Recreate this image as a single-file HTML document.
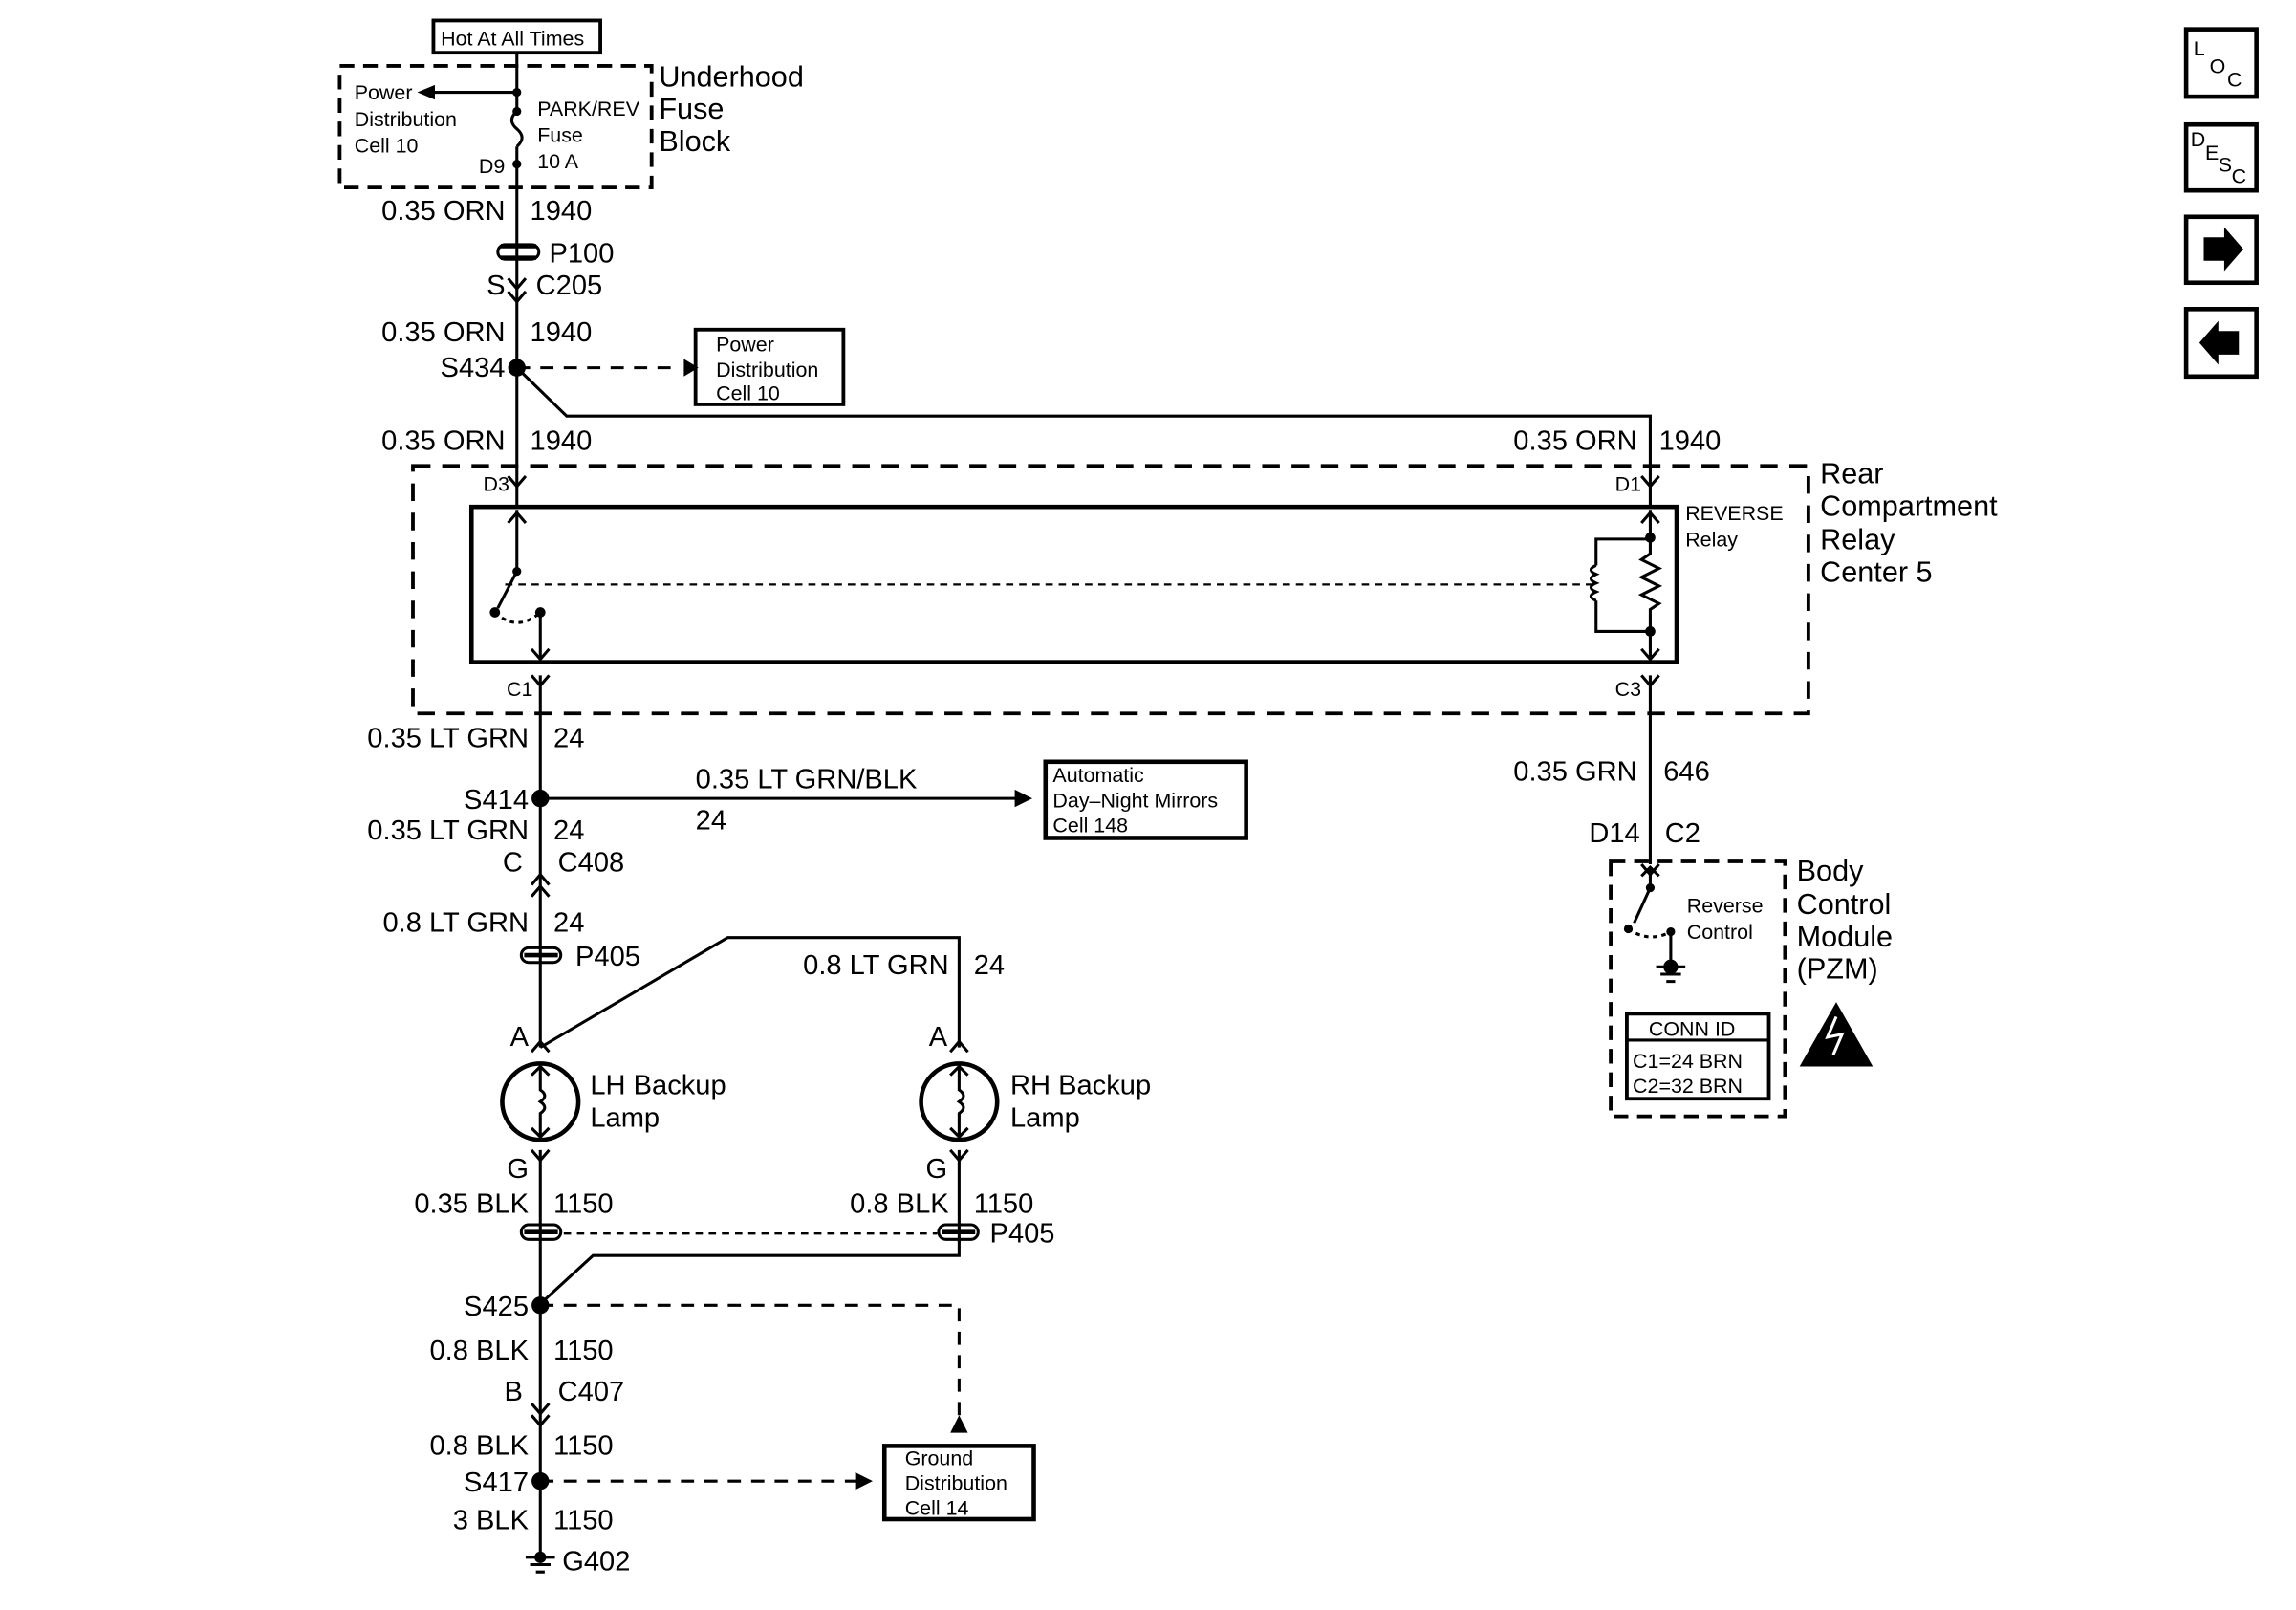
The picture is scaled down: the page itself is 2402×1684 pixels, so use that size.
<!DOCTYPE html>
<html><head><meta charset="utf-8"><style>
html,body{margin:0;padding:0;background:#fff}
svg{display:block}
text{font-family:"Liberation Sans",Arial,sans-serif;fill:#000}
.b{font-size:19px}.s{font-size:14px}.l{font-size:20px}
</style></head><body>
<svg width="2402" height="1684" viewBox="0 0 1568 1099" preserveAspectRatio="none" xmlns="http://www.w3.org/2000/svg">
<g fill="none" stroke="#000" stroke-width="2">
<rect x="296" y="14" width="114" height="22" stroke-width="2.5"/>
<rect x="232" y="45" width="213" height="83" stroke-dasharray="10,6" stroke-width="2.5"/>
<line x1="353" y1="36" x2="353" y2="76"/>
<line x1="353" y1="63" x2="290" y2="63"/>
<path d="M353 76 q-7 6 0 12 q7 6 0 12"/>
<line x1="353" y1="100" x2="353" y2="346"/>
<path d="M342 168 h24 M342 176 h24" stroke-width="3"/>
<rect x="340" y="167" width="28" height="10" rx="5"/>
<path d="M347 190 l6 7 l6 -7 M347 199 l6 7 l6 -7"/>
<line x1="353" y1="251" x2="465" y2="251" stroke-dasharray="9,7"/>
<rect x="475" y="225" width="101" height="51" stroke-width="2.5"/>
<polyline points="353,251 387,284 1127,284 1127,346"/>
<rect x="282" y="318" width="953" height="169" stroke-dasharray="12,8" stroke-width="2.5"/>
<rect x="322" y="346" width="823" height="106" stroke-width="3"/>
<path d="M347 325 l6 7 l6 -7 M1121 325 l6 7 l6 -7"/>
<path d="M347 357 l6 -7 l6 7 M1121 357 l6 -7 l6 7"/>
<line x1="353" y1="348" x2="353" y2="390"/>
<line x1="353" y1="390" x2="340" y2="415"/>
<path d="M338 418 q15 14 31 0" stroke-dasharray="3,3"/>
<line x1="369" y1="418" x2="369" y2="450"/>
<path d="M363 443 l6 7 l6 -7 M1121 443 l6 7 l6 -7"/>
<line x1="345" y1="399" x2="1090" y2="399" stroke-dasharray="5,4" stroke-width="1.5"/>
<polyline points="1127,348 1127,378 1121,382 1133,388 1121,394 1133,400 1121,406 1133,412 1127,416 1127,450"/>
<polyline points="1127,368 1090,368 1090,386"/>
<path d="M1090 386 q-7 3 0 6 q-7 3 0 6 q-7 3 0 6 q-7 3 0 6"/>
<polyline points="1090,410 1090,431 1127,431"/>
<path d="M363 461 l6 7 l6 -7 M1121 461 l6 7 l6 -7"/>
<line x1="369" y1="461" x2="369" y2="715"/>
<line x1="369" y1="545" x2="695" y2="545"/>
<rect x="714" y="520" width="137" height="52" stroke-width="3"/>
<path d="M363 604 l6 -7 l6 7 M363 612 l6 -7 l6 7"/>
<rect x="356" y="647" width="27" height="10" rx="5"/>
<path d="M358 652 h23" stroke-width="3"/>
<polyline points="369,715 497,640 655,640 655,715"/>
<path d="M363 718 l6 -7 l6 7 M649 718 l6 -7 l6 7"/>
<circle cx="369" cy="752" r="26" stroke-width="3"/>
<circle cx="655" cy="752" r="26" stroke-width="3"/>
<path d="M369 728 v16 q6 4 0 8 q6 4 0 8 v16 M363 734 l6 -6 l6 6 M363 770 l6 6 l6 -6"/>
<path d="M655 728 v16 q6 4 0 8 q6 4 0 8 v16 M649 734 l6 -6 l6 6 M649 770 l6 6 l6 -6"/>
<path d="M363 785 l6 7 l6 -7 M649 785 l6 7 l6 -7"/>
<line x1="369" y1="785" x2="369" y2="1063"/>
<line x1="655" y1="785" x2="655" y2="848"/>
<rect x="356" y="836" width="27" height="10" rx="5"/>
<path d="M358 841 h23" stroke-width="3"/>
<rect x="641" y="836" width="27" height="10" rx="5"/>
<path d="M643 841 h23" stroke-width="3"/>
<line x1="385" y1="842" x2="640" y2="842" stroke-dasharray="5,4" stroke-width="1.5"/>
<polyline points="655,846 655,857 405,857 369,890"/>
<polyline points="369,891 655,891 655,968" stroke-dasharray="9,7"/>
<path d="M363 958 l6 7 l6 -7 M363 966 l6 7 l6 -7"/>
<line x1="369" y1="1011" x2="586" y2="1011" stroke-dasharray="9,7"/>
<rect x="604" y="987" width="102" height="50" stroke-width="3"/>
<path d="M359 1063 h20 M362 1068 h14 M366 1073 h6"/>
<line x1="1127" y1="461" x2="1127" y2="590"/>
<path d="M1121 590 l6 7 l6 -7"/>
<rect x="1100" y="588" width="119" height="174" stroke-dasharray="10,6" stroke-width="2.5"/>
<path d="M1121 598 l6 -6 l6 6"/>
<line x1="1127" y1="592" x2="1127" y2="606"/>
<line x1="1127" y1="606" x2="1116" y2="630"/>
<path d="M1112 634 q14 10 29 2" stroke-dasharray="3,3"/>
<line x1="1141" y1="636" x2="1141" y2="660"/>
<path d="M1131 660 h20 M1134 665 h14 M1138 670 h6"/>
<rect x="1111" y="692" width="97" height="58" stroke-width="2.5"/>
<line x1="1111" y1="710" x2="1208" y2="710"/>
<rect x="1493" y="20" width="48" height="46" stroke-width="3"/>
<rect x="1493" y="85" width="48" height="45" stroke-width="3"/>
<rect x="1493" y="148" width="48" height="45" stroke-width="3"/>
<rect x="1493" y="211" width="48" height="46" stroke-width="3"/>
</g>
<g fill="#000">
<path d="M285 63 l12 -5 v10 z"/>
<circle cx="353" cy="63" r="3"/><circle cx="353" cy="76" r="3"/><circle cx="353" cy="112" r="3"/>
<circle cx="353" cy="251" r="6"/>
<path d="M467 245 l10 6 l-10 6 z"/>
<circle cx="353" cy="390" r="3"/><circle cx="338" cy="418" r="3.5"/><circle cx="369" cy="418" r="3.5"/>
<circle cx="1127" cy="367" r="3.5"/><circle cx="1127" cy="431" r="3.5"/>
<circle cx="369" cy="545" r="6"/>
<path d="M693 539 l12 6 l-12 6 z"/>
<circle cx="369" cy="891" r="6"/>
<path d="M649 978 l6 -12 l6 12 z"/>
<circle cx="369" cy="1011" r="6"/>
<path d="M584 1005 l12 6 l-12 6 z"/>
<circle cx="369" cy="1063" r="4"/>
<circle cx="1127" cy="606" r="3"/><circle cx="1112" cy="634" r="3"/><circle cx="1141" cy="636" r="3"/>
<circle cx="1141" cy="660" r="5"/>
<path d="M1254 684 l25 44 h-50 z"/>
<path d="M1505 162 h14 v-7 l13 15 l-13 15 v-7 h-14 z"/>
<path d="M1529 226 h-14 v-7 l-13 15 l13 15 v-7 h14 z"/>
</g>
<path d="M1254 694 l-6 14 l10 -2 l-6 14" stroke="#fff" stroke-width="2" fill="none"/>
<text x="301" y="31" class="s">Hot At All Times</text>
<text x="242" y="68" class="s">Power</text><text x="242" y="86" class="s">Distribution</text><text x="242" y="104" class="s">Cell 10</text>
<text x="367" y="79" class="s">PARK/REV</text><text x="367" y="97" class="s">Fuse</text><text x="367" y="115" class="s">10 A</text>
<text x="327" y="118" class="s">D9</text>
<text x="450" y="59" class="l">Underhood</text><text x="450" y="81" class="l">Fuse</text><text x="450" y="103" class="l">Block</text>
<g class="b" text-anchor="end">
<text x="345" y="150">0.35 ORN</text><text x="345" y="201">S</text><text x="345" y="233">0.35 ORN</text><text x="345" y="257">S434</text>
<text x="345" y="307">0.35 ORN</text><text x="1118" y="307">0.35 ORN</text>
<text x="361" y="510">0.35 LT GRN</text><text x="361" y="552">S414</text><text x="361" y="573">0.35 LT GRN</text><text x="357" y="595">C</text>
<text x="361" y="636">0.8 LT GRN</text><text x="648" y="665">0.8 LT GRN</text>
<text x="361" y="714">A</text><text x="647" y="714">A</text><text x="361" y="804">G</text><text x="647" y="804">G</text>
<text x="361" y="828">0.35 BLK</text><text x="648" y="828">0.8 BLK</text>
<text x="361" y="898">S425</text><text x="361" y="928">0.8 BLK</text><text x="357" y="956">B</text>
<text x="361" y="993">0.8 BLK</text><text x="361" y="1018">S417</text><text x="361" y="1044">3 BLK</text>
<text x="1118" y="533">0.35 GRN</text><text x="1120" y="575">D14</text>
</g>
<g class="b">
<text x="362" y="150">1940</text><text x="375" y="179">P100</text><text x="366" y="201">C205</text><text x="362" y="233">1940</text>
<text x="362" y="307">1940</text><text x="1133" y="307">1940</text>
<text x="378" y="510">24</text><text x="475" y="538">0.35 LT GRN/BLK</text><text x="475" y="566">24</text>
<text x="378" y="573">24</text><text x="381" y="595">C408</text><text x="378" y="636">24</text><text x="393" y="659">P405</text><text x="665" y="665">24</text>
<text x="403" y="747">LH Backup</text><text x="403" y="769">Lamp</text><text x="690" y="747">RH Backup</text><text x="690" y="769">Lamp</text>
<text x="378" y="828">1150</text><text x="665" y="828">1150</text><text x="676" y="848">P405</text>
<text x="378" y="928">1150</text><text x="381" y="956">C407</text><text x="378" y="993">1150</text><text x="378" y="1044">1150</text>
<text x="384" y="1072">G402</text>
<text x="1136" y="533">646</text><text x="1137" y="575">C2</text>
</g>
<g class="s">
<text x="489" y="240">Power</text><text x="489" y="257">Distribution</text><text x="489" y="273">Cell 10</text>
<text x="330" y="335">D3</text><text x="1103" y="335">D1</text><text x="346" y="475">C1</text><text x="1103" y="475">C3</text>
<text x="1151" y="355">REVERSE</text><text x="1151" y="373">Relay</text>
<text x="719" y="534">Automatic</text><text x="719" y="551">Day–Night Mirrors</text><text x="719" y="568">Cell 148</text>
<text x="618" y="1000">Ground</text><text x="618" y="1017">Distribution</text><text x="618" y="1034">Cell 14</text>
<text x="1152" y="623">Reverse</text><text x="1152" y="641">Control</text>
<text x="1126" y="707">CONN ID</text><text x="1115" y="729">C1=24 BRN</text><text x="1115" y="746">C2=32 BRN</text>
<text x="1498" y="38">L</text><text x="1509" y="50">O</text><text x="1521" y="59">C</text>
<text x="1496" y="100">D</text><text x="1506" y="109">E</text><text x="1515" y="117">S</text><text x="1524" y="125">C</text>
</g>
<g class="l">
<text x="1243" y="330">Rear</text><text x="1243" y="352">Compartment</text><text x="1243" y="375">Relay</text><text x="1243" y="397">Center 5</text>
<text x="1227" y="601">Body</text><text x="1227" y="624">Control</text><text x="1227" y="646">Module</text><text x="1227" y="668">(PZM)</text>
</g>
</svg>
</body></html>
